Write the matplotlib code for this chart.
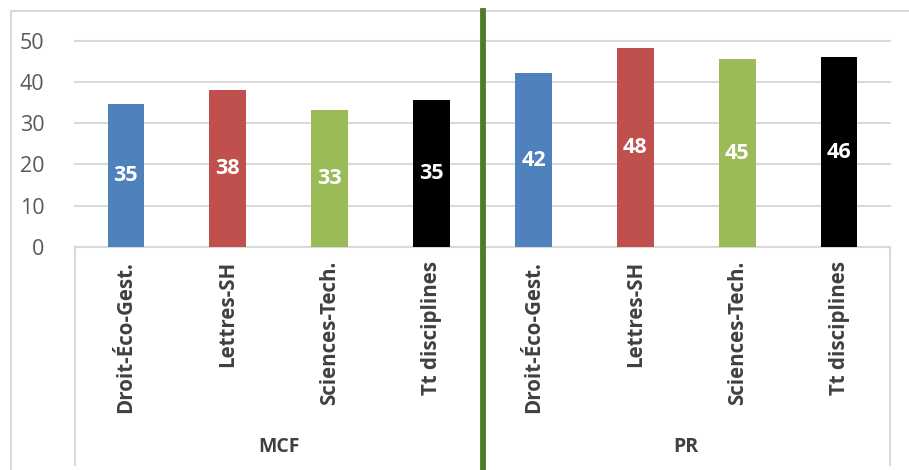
import matplotlib.pyplot as plt
from matplotlib.lines import Line2D

# data
groups = ['MCF', 'PR']
disciplines = ['Droit-Éco-Gest.', 'Lettres-SH', 'Sciences-Tech.', 'Tt disciplines']
mcf_values = [34.6, 38.0, 33.2, 35.6]
pr_values = [42.1, 48.2, 45.5, 46.0]
mcf_labels = ['35', '38', '33', '35']
pr_labels = ['42', '48', '45', '46']
colors = ['#4F81BD', '#C0504D', '#9BBB59', '#000000']

plt.rcParams['font.family'] = ['Open Sans', 'DejaVu Sans']

values = mcf_values + pr_values
labels = mcf_labels + pr_labels
ticklabels = disciplines * 2
bar_colors = colors * 2
x = list(range(len(values)))

W, H = 909, 470
fig = plt.figure(figsize=(W / 100, H / 100), dpi=100)
ax = fig.add_axes([75 / W, 1 - 247 / H, (890 - 75) / W, (247 - 40.7) / H])

bars = ax.bar(x, values, width=0.36, color=bar_colors, zorder=3)
for b, lab in zip(bars, labels):
    ax.text(b.get_x() + b.get_width() / 2, b.get_height() / 2, lab,
            ha='center', va='center', color='white', fontsize=15.5,
            fontweight='bold', zorder=4)

ax.set_xlim(-0.5, len(values) - 0.5)
ax.set_ylim(0, 50)
ax.set_yticks(range(0, 51, 10))
ax.yaxis.grid(True, color='#D9D9D9', linewidth=1.5, zorder=0, clip_on=False)
for s in ax.spines.values():
    s.set_visible(False)
ax.tick_params(axis='y', length=0, labelsize=15.5, labelcolor='#595959', pad=22)
ax.set_xticks(x)
ax.set_xticklabels(ticklabels, rotation=90, fontsize=14.8, fontweight='bold',
                   color='#404040', va='top')
ax.tick_params(axis='x', length=0, pad=10)

# category axis line and separators
ax.axhline(0, color='#D9D9D9', linewidth=1.5, zorder=2, clip_on=False)
for xp in (75, 890):
    fig.add_artist(Line2D([xp / W, xp / W], [1 - 247 / H, 1 - 465 / H],
                          color='#D9D9D9', linewidth=1.5))

# group labels
for i, g in enumerate(groups):
    ax.text(1.5 + 4 * i, -(447 - 247) / (247 - 40.7), g,
            transform=ax.get_xaxis_transform(),
            ha='center', va='center', fontsize=14, fontweight='bold',
            color='#404040')

# outer frame
fig.add_artist(Line2D([11 / W, 11 / W], [0, 1 - 11 / H], color='#D9D9D9', linewidth=1.5))
fig.add_artist(Line2D([11 / W, 1], [1 - 11 / H, 1 - 11 / H], color='#D9D9D9', linewidth=1.5))

# green divider between MCF and PR
xm = ax.transData.transform((3.5, 0))[0] / fig.dpi / fig.get_figwidth()
fig.add_artist(Line2D([xm, xm], [0, 1 - 11 / H], color='#4E7A2A', linewidth=4.2))

fig.savefig('out.png', dpi=100)
